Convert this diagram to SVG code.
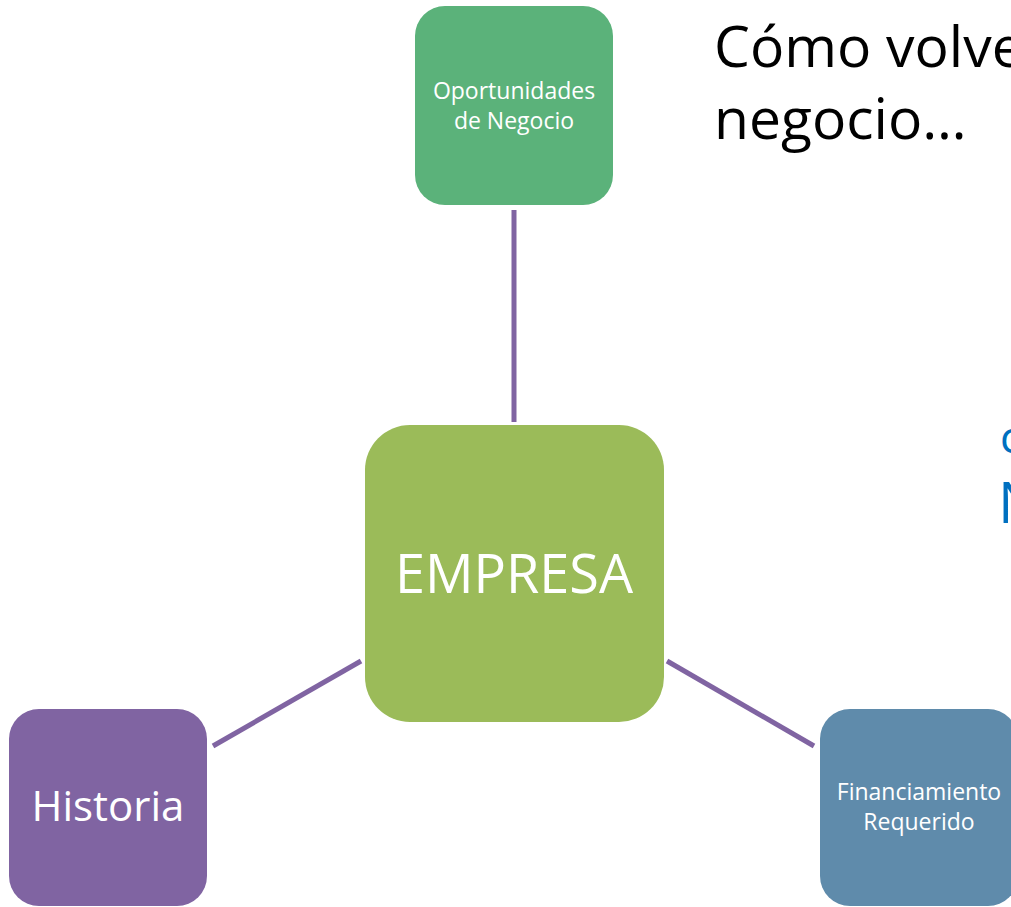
<svg xmlns="http://www.w3.org/2000/svg" width="1011" height="907" viewBox="0 0 1011 907">
<style>
.node-text{font-family:"Open Sans","Liberation Sans",sans-serif;fill:#ffffff;text-anchor:middle}
.conn{stroke:#8064A2;stroke-width:5;fill:none}
.title{font-family:"Open Sans","Liberation Sans",sans-serif;fill:#000000}
.blue{font-family:"Open Sans","Liberation Sans",sans-serif;fill:#0070C0}
</style>
<rect width="1011" height="907" fill="#ffffff"/>
<g id="connectors">
<line class="conn" x1="514" y1="210" x2="514" y2="422"/>
<line class="conn" x1="361" y1="661" x2="213" y2="746"/>
<line class="conn" x1="667" y1="661" x2="814" y2="746"/>
</g>
<g id="node-oportunidades">
<rect x="415" y="6" width="198" height="199" rx="30" fill="#5BB27A"/>
<text class="node-text" x="514" y="99" font-size="23">Oportunidades</text>
<text class="node-text" x="514" y="129" font-size="23">de Negocio</text>
</g>
<g id="node-empresa">
<rect x="365" y="425" width="299" height="297" rx="45" fill="#9BBB59"/>
<text class="node-text" x="514" y="593" font-size="54">EMPRESA</text>
</g>
<g id="node-historia">
<rect x="9" y="709" width="198" height="197" rx="30" fill="#8064A2"/>
<text class="node-text" x="108" y="821" font-size="42">Historia</text>
</g>
<g id="node-financiamiento">
<rect x="820" y="709" width="198" height="197" rx="30" fill="#5F8BAB"/>
<text class="node-text" x="919" y="800" font-size="23">Financiamiento</text>
<text class="node-text" x="919" y="830" font-size="23">Requerido</text>
</g>
<g id="title">
<text class="title" x="714" y="67" font-size="57">Cómo volver</text>
<text class="title" x="714" y="139" font-size="57">negocio…</text>
</g>
<g id="blue-text">
<text class="blue" x="1000" y="453" font-size="44">c</text>
<text class="blue" x="998" y="523" font-size="57">N</text>
</g>
</svg>
